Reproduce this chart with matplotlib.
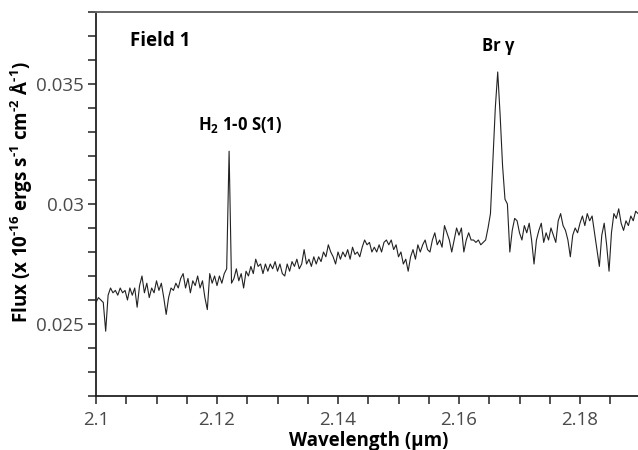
import matplotlib
matplotlib.use("Agg")
import matplotlib.pyplot as plt
import numpy as np
from matplotlib.ticker import MultipleLocator, FixedLocator

# ---------------- data ----------------
wl_start = 2.1000   # µm
wl_step = 0.0004    # µm per sample
flux = [
    0.0259, 0.0261, 0.0260, 0.0259, 0.0247, 0.0262, 0.0265, 0.0263, 0.0264, 0.0262,
    0.0265, 0.0263, 0.0264, 0.0260, 0.0265, 0.0262, 0.0265, 0.0257, 0.0266, 0.0270,
    0.0263, 0.0267, 0.0261, 0.0265, 0.0263, 0.0268, 0.0264, 0.0267, 0.0261, 0.0254,
    0.0261, 0.0265, 0.0264, 0.0267, 0.0265, 0.0269, 0.0271, 0.0265, 0.0269, 0.0263,
    0.0268, 0.0266, 0.0270, 0.0265, 0.0268, 0.0261, 0.0256, 0.0271, 0.0267, 0.0270,
    0.0266, 0.0270, 0.0267, 0.0271, 0.0273, 0.0322, 0.0267, 0.0269, 0.0273, 0.0268,
    0.0271, 0.0265, 0.0272, 0.0270, 0.0274, 0.0271, 0.0277, 0.0274, 0.0275, 0.0271,
    0.0275, 0.0272, 0.0275, 0.0273, 0.0276, 0.0272, 0.0275, 0.0271, 0.0270, 0.0275,
    0.0272, 0.0276, 0.0274, 0.0277, 0.0273, 0.0275, 0.0281, 0.0275, 0.0277, 0.0274,
    0.0278, 0.0275, 0.0278, 0.0276, 0.0280, 0.0278, 0.0283, 0.0280, 0.0278, 0.0275,
    0.0280, 0.0277, 0.0280, 0.0278, 0.0281, 0.0277, 0.0282, 0.0279, 0.0280, 0.0278,
    0.0282, 0.0285, 0.0283, 0.0284, 0.0280, 0.0282, 0.0280, 0.0283, 0.0280, 0.0284,
    0.0285, 0.0283, 0.0285, 0.0281, 0.0283, 0.0278, 0.0280, 0.0275, 0.0277, 0.0272,
    0.0278, 0.0281, 0.0277, 0.0283, 0.0280, 0.0283, 0.0285, 0.0281, 0.0280, 0.0285,
    0.0288, 0.0283, 0.0285, 0.0282, 0.0291, 0.0288, 0.0285, 0.0280, 0.0285, 0.0290,
    0.0287, 0.0290, 0.0280, 0.0285, 0.0288, 0.0285, 0.0285, 0.0284, 0.0285, 0.0283,
    0.0284, 0.0285, 0.0290, 0.0296, 0.0318, 0.0340, 0.0355, 0.0337, 0.0316, 0.0302,
    0.0300, 0.0280, 0.0289, 0.0294, 0.0293, 0.0288, 0.0285, 0.0291, 0.0288, 0.0292,
    0.0285, 0.0275, 0.0285, 0.0289, 0.0292, 0.0284, 0.0288, 0.0285, 0.0290, 0.0287,
    0.0284, 0.0293, 0.0296, 0.0291, 0.0289, 0.0285, 0.0278, 0.0287, 0.0290, 0.0288,
    0.0292, 0.0295, 0.0291, 0.0296, 0.0293, 0.0295, 0.0288, 0.0281, 0.0274, 0.0287,
    0.0292, 0.0283, 0.0272, 0.0288, 0.0296, 0.0294, 0.0298, 0.0292, 0.0289, 0.0293,
    0.0291, 0.0295, 0.0293, 0.0297, 0.0296,
]
wavelength = wl_start + wl_step * np.arange(len(flux))

x_ticks = [2.10, 2.12, 2.14, 2.16, 2.18]
x_ticklabels = ["2.1", "2.12", "2.14", "2.16", "2.18"]
y_ticks = [0.025, 0.030, 0.035]
y_ticklabels = ["0.025", "0.03", "0.035"]

lines = [("H$_2$ 1-0 S(1)", 2.1238, 0.03328), ("Br γ", 2.1664, 0.03658)]
panel_label = "Field 1"

# ---------------- style ----------------
plt.rcParams['font.family'] = ['Open Sans', 'DejaVu Sans']
plt.rcParams['mathtext.fontset'] = 'custom'
plt.rcParams['mathtext.rm'] = 'Open Sans:bold'
plt.rcParams['mathtext.it'] = 'Open Sans:bold'
plt.rcParams['mathtext.bf'] = 'Open Sans:bold'
plt.rcParams['mathtext.default'] = 'rm'

fig = plt.figure(figsize=(6.38, 4.5), dpi=100)
ax = fig.add_axes([96 / 638, 1 - 396 / 450, 544.5 / 638, 384 / 450])

ax.plot(wavelength, flux, color="#222222", lw=0.8)

ax.set_xlim(2.10, 2.19)
ax.set_ylim(0.022, 0.038)

ax.xaxis.set_major_locator(FixedLocator(x_ticks))
ax.set_xticklabels(x_ticklabels)
ax.xaxis.set_minor_locator(MultipleLocator(0.005))
ax.yaxis.set_major_locator(FixedLocator(y_ticks))
ax.set_yticklabels(y_ticklabels)
ax.yaxis.set_minor_locator(MultipleLocator(0.001))

ax.tick_params(axis="both", which="both", direction="out", length=6, width=1.2,
               color="#333333", labelsize=13.5, labelcolor="#4a4a4a")
ax.tick_params(axis="x", pad=5)
ax.tick_params(axis="y", pad=3)

ax.spines["right"].set_visible(False)
ax.spines["top"].set_color("#666666")
ax.spines["top"].set_linewidth(1.4)
ax.spines["left"].set_color("#222222")
ax.spines["left"].set_linewidth(1.3)
ax.spines["bottom"].set_color("#222222")
ax.spines["bottom"].set_linewidth(1.3)

ax.set_xlabel("Wavelength (µm)", fontsize=13.5, fontweight="bold", labelpad=1)
ax.set_ylabel(r"Flux (x 10$^{\text{-16}}$ ergs s$^{\text{-1}}$ cm$^{\text{-2}}$ Å$^{\text{-1}}$)",
              fontsize=13.5, fontweight="bold")
ax.yaxis.set_label_coords(-0.112, 0.53)

ax.text(0.062, 0.925, panel_label, transform=ax.transAxes, fontsize=13.5,
        fontweight="bold", ha="left", va="center")
for lab, lx, ly in lines:
    ax.text(lx, ly, lab, fontsize=12, fontweight="bold", ha="center", va="center")

fig.savefig("out.png", dpi=100)
